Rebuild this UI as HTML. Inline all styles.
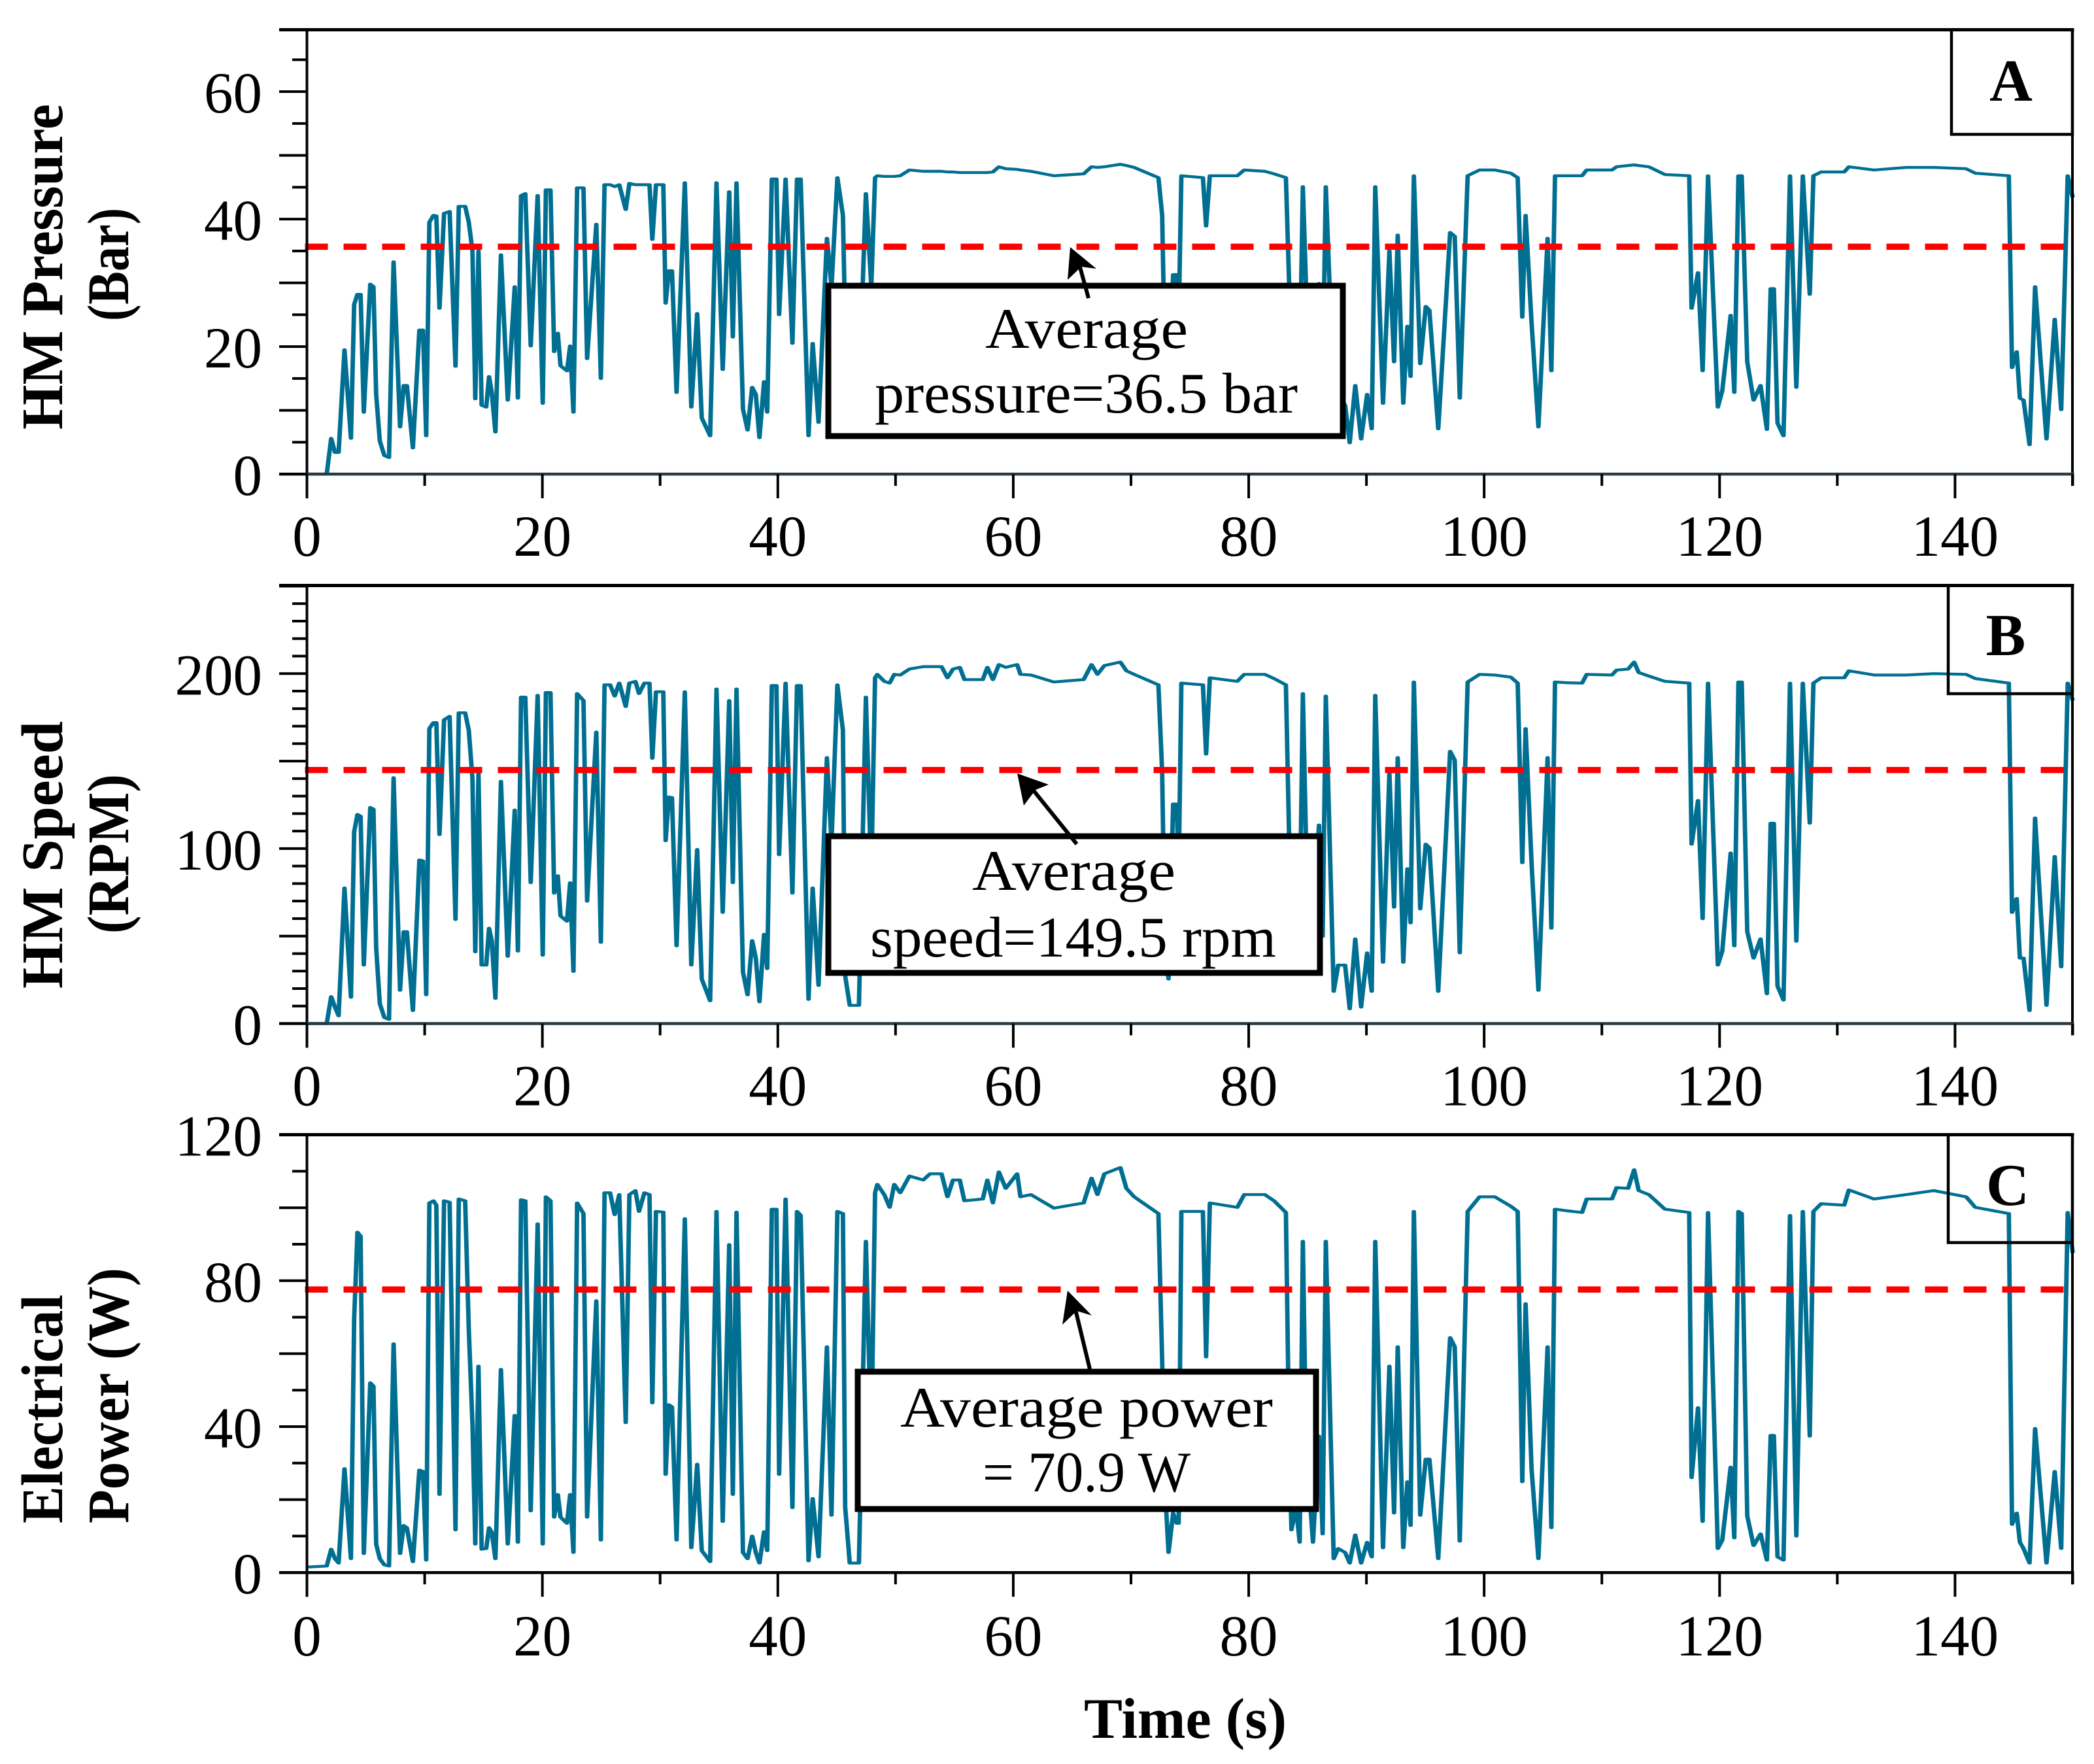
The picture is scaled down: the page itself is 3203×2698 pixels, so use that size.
<!DOCTYPE html>
<html lang="en">
<head>
<meta charset="utf-8">
<title>HM pressure, speed and electrical power over time</title>
<style>
html,body{margin:0;padding:0;background:#fff;}
svg{display:block;}
text{font-family:"Liberation Serif",serif;fill:#000;}
.tick-label{font-size:89px;}
.title{font-size:90px;font-weight:bold;}
.note{font-size:88px;}
.panel-letter{font-size:91px;font-weight:bold;text-anchor:middle;}
</style>
</head>
<body>
<svg id="chart" xmlns="http://www.w3.org/2000/svg" width="3203" height="2698" viewBox="0 0 3203 2698">
  <rect x="0" y="0" width="3203" height="2698" fill="#fff"/>
  <g id="plots"></g>

  <g>
    <rect x="1267" y="437" width="787" height="230" fill="#fff" stroke="#000" stroke-width="9"/>
    <text class="note" x="1507" y="532" textLength="310" lengthAdjust="spacingAndGlyphs">Average</text>
    <text class="note" x="1338" y="631" textLength="647" lengthAdjust="spacingAndGlyphs">pressure=36.5 bar</text>
    <line x1="1665" y1="456" x2="1651" y2="405" stroke="#000" stroke-width="6"/>
    <polygon points="1637,378 1677,411 1654,408 1633,428" fill="#000"/>
  </g>
  <g>
    <rect x="1267" y="1279" width="752" height="209" fill="#fff" stroke="#000" stroke-width="9"/>
    <text class="note" x="1487" y="1361" textLength="311" lengthAdjust="spacingAndGlyphs">Average</text>
    <text class="note" x="1331" y="1463" textLength="621" lengthAdjust="spacingAndGlyphs">speed=149.5 rpm</text>
    <line x1="1647" y1="1291" x2="1580" y2="1208" stroke="#000" stroke-width="6"/>
    <polygon points="1556,1183 1604,1200 1584,1208 1566,1232" fill="#000"/>
  </g>
  <g>
    <rect x="1312" y="2098" width="701" height="210" fill="#fff" stroke="#000" stroke-width="9"/>
    <text class="note" x="1377" y="2182" textLength="570" lengthAdjust="spacingAndGlyphs">Average power</text>
    <text class="note" x="1503" y="2281" textLength="318" lengthAdjust="spacingAndGlyphs">= 70.9 W</text>
    <line x1="1667" y1="2094" x2="1645" y2="2003" stroke="#000" stroke-width="6"/>
    <polygon points="1633,1974 1670,2012 1647,2005 1625,2026" fill="#000"/>
  </g>

  <g>
    <rect x="2985" y="45.5" width="185" height="160" fill="none" stroke="#000" stroke-width="4.5"/>
    <text class="panel-letter" x="3076" y="154">A</text>
    <rect x="2980" y="895.5" width="190" height="165.5" fill="none" stroke="#000" stroke-width="4.5"/>
    <text class="panel-letter" x="3068" y="1002">B</text>
    <rect x="2980" y="1735.5" width="190" height="165" fill="none" stroke="#000" stroke-width="4.5"/>
    <text class="panel-letter" x="3071" y="1843">C</text>
  </g>

  <g>
    <text class="title" transform="translate(95,657) rotate(-90)" textLength="498" lengthAdjust="spacingAndGlyphs">HM Pressure</text>
    <text class="title" transform="translate(196,491) rotate(-90)" textLength="173" lengthAdjust="spacingAndGlyphs">(Bar)</text>
    <text class="title" transform="translate(95,1512) rotate(-90)" textLength="409" lengthAdjust="spacingAndGlyphs">HM Speed</text>
    <text class="title" transform="translate(196,1428) rotate(-90)" textLength="244" lengthAdjust="spacingAndGlyphs">(RPM)</text>
    <text class="title" transform="translate(95,2330) rotate(-90)" textLength="350" lengthAdjust="spacingAndGlyphs">Electrical</text>
    <text class="title" transform="translate(196,2330) rotate(-90)" textLength="391" lengthAdjust="spacingAndGlyphs">Power (W)</text>
    <text class="title" x="1658" y="2658" textLength="310" lengthAdjust="spacingAndGlyphs" style="font-size:88px">Time (s)</text>
  </g>
</svg>
<script>
// Shared time base (seconds)
const times = [
0,1.68,2.06,2.38,2.69,3.19,3.74,4.01,4.29,4.56,
4.83,5.38,5.65,5.88,6.19,6.58,6.97,7.36,7.91,8.22,
8.49,9.00,9.55,9.86,10.13,10.40,10.75,10.99,11.26,11.65,
12.12,12.62,12.90,13.44,13.75,14.06,14.30,14.57,14.84,15.23,
15.47,15.70,16.01,16.48,17.06,17.65,17.92,18.19,18.55,19.01,
19.60,20.03,20.30,20.69,21.00,21.31,21.54,22.09,22.36,22.64,
22.95,23.49,23.80,24.58,24.97,25.28,25.75,26.14,26.53,27.08,
27.39,27.90,28.21,28.67,29.10,29.34,29.65,30.27,30.47,30.74,
31.01,31.40,32.10,32.65,33.15,33.54,34.25,34.79,
35.32,35.87,36.18,36.49,37.04,37.43,37.82,38.13,38.44,38.83,
39.10,39.49,39.88,40.11,40.66,41.24,41.63,41.94,42.61,42.96,
43.46,44.17,44.56,45.06,45.53,45.72,46.11,46.89,47.48,47.94,
48.26,48.45,49.04,49.50,49.89,50.40,51.18,52.35,52.93,53.91,
54.41,54.88,55.46,55.85,57.41,57.80,58.27,58.78,59.36,60.33,
60.61,61.50,63.45,65.98,66.65,67.15,67.74,69.10,69.61,70.27,
72.33,72.65,72.88,73.19,73.58,73.89,74.05,74.28,76.11,76.38,
76.70,79.03,79.62,81.37,82.15,83.16,83.44,83.63,84.02,84.33,
84.60,84.87,85.46,85.97,86.28,86.55,87.22,87.60,88.19,88.58,
89.05,89.55,90.06,90.45,90.75,91.41,91.95,92.35,92.66,93.13,
93.48,93.75,94.03,94.57,95.04,95.35,96.10,97.11,97.50,97.93,
98.60,99.61,100.90,102.27,102.85,103.24,103.52,104.03,104.61,105.39,
105.71,106.02,106.96,108.32,108.71,110.86,111.25,112.23,112.74,113.13,
113.99,115.35,117.42,117.62,118.17,118.56,119.02,119.85,120.23,120.94,
121.25,121.60,121.88,122.35,122.89,123.48,124.02,124.34,124.61,124.92,
125.43,125.98,126.52,127.07,127.66,127.97,128.63,130.59,130.98,133.12,
135.86,138.20,140.94,141.72,144.57,144.84,145.24,145.51,145.82,146.33,
146.80,147.77,148.47,149.02,149.57,150.00];

// HM pressure (bar)
const pressure = [
0,0,5.6,3.4,3.4,19.5,5.6,26.6,28.2,28.2,
9.7,29.8,29.4,12.5,5.2,2.9,2.6,33.3,7.4,13.9,
13.9,4.1,22.6,22.6,6.0,39.5,40.6,40.5,26.0,40.9,
41.2,16.9,42,42,39.5,35,11.8,35,10.8,10.5,
15.3,12.8,6.6,34.4,11.6,29.4,11.9,43.7,44,20.1,
43.7,11.1,44.6,44.6,19.2,22.1,17,16.2,20.1,9.7,
44.9,44.9,18.1,39.2,15,45.4,45.4,45.1,45.4,41.5,
45.6,45.4,45.4,45.4,45.4,36.8,45.4,45.4,26.8,31.9,
31.9,12.8,45.7,10.5,25.2,8.8,6,45.7,
16.4,44.3,21.5,45.7,10.2,6.9,13.6,12.5,5.7,14.5,
9.7,46.3,46.3,25,46.3,20.5,46.3,46.3,6,20.5,
8.1,37,29.4,46.5,40.6,23.7,12.5,12.5,44,29.4,
46.5,46.8,46.7,46.7,46.7,46.8,47.7,47.5,47.5,47.5,
47.4,47.4,47.3,47.3,47.3,47.3,47.4,48.2,47.9,47.8,
47.7,47.5,46.8,47.1,48.2,48.1,48.2,48.6,48.4,48.1,
46.5,40.6,18,12.5,31.3,31.3,23.7,46.8,46.5,38.9,
46.8,46.8,47.7,47.5,47.1,46.5,29.4,18.1,18.1,16.2,
45.1,29.4,16.2,29.9,15.3,45.1,12.5,12.5,10.8,4.9,
13.9,5.5,12.5,7.1,45.1,11.1,35,17.6,37.5,11.1,
23.2,15.3,46.8,17.3,26.3,25.7,7.1,37.9,37.3,11.9,
46.8,47.7,47.7,47.2,46.5,24.6,40.6,23.7,7.4,37,
16.2,46.8,46.8,46.8,47.7,47.7,48.2,48.4,48.5,48.4,
48.2,47,46.8,26,31.6,16.2,46.8,10.5,13.1,24.9,
12.8,46.8,46.8,17.6,11.6,13.9,7,29.1,29.1,8,
6,46.8,13.6,46.8,28.2,46.8,47.4,47.4,48.2,47.7,
48.1,48.1,47.9,47.2,46.8,16.7,19.2,11.9,11.6,4.6,
29.4,5.5,24.3,10.1,46.8,43.4];

// HM speed (rpm)
const speed = [
0,0,15.4,9.4,4.4,77.5,15,109.5,119.5,118.5,
33.4,123.5,122.5,43.4,11.4,3.4,2.4,140.5,19,52.5,
52.5,7.4,93.5,93,16.4,168.6,172,172,108,173.6,
175.6,59.5,177.6,177.6,167.6,140,41,143.5,33.4,33.4,
54.5,47.4,14.4,138.5,38.4,122,41.4,186.6,186.6,80.5,
187.6,39,189.2,189.2,74.5,84.5,61.5,58.5,80.5,29.8,
188.6,184.6,69.9,166.6,46.4,193.6,193.6,187.2,194.6,181.2,
194.6,195.6,188.6,194.6,194.6,151.6,189.6,189.6,104.5,129.5,
129.1,44.4,189.6,33.4,99.5,25.4,13,191.2,
63.5,184.6,80.5,191.2,29.4,16.4,47.4,37.4,12.4,51,
31.4,193.2,193.2,96.5,194.6,74.5,193.2,193.2,13.8,77.5,
21.8,152,103.5,193.6,167.6,27.4,10.4,10.4,186.6,83.5,
197.6,199.6,195.6,194.6,199.6,199.2,202.6,204,204,204,
197.6,202.6,203.6,196.6,196.6,203.6,196.6,205.2,203.6,205.2,
199.6,199.2,195.2,196.6,205.2,199.6,204.6,206.6,201.6,199.6,
193.6,143.5,43.4,25.4,125.5,125.5,83.5,194.6,193.6,154,
197.6,195.6,199.6,199.6,197.2,193.6,103.5,63.5,63.5,56.5,
188.6,103.5,56.5,113.5,49.8,187.2,18.4,33.4,33.4,8.4,
48.4,9.4,40.4,18.4,187.6,35,143.5,66.5,152,35,
88.5,57.5,195.2,65.5,102.5,100.5,18.4,155.6,150.6,40.4,
195.2,199.6,199.2,198,194.6,91.9,168.6,91.5,19,152,
54.5,195.2,194.8,194.6,199.6,199.2,202,202.6,206.6,200.6,
198.6,195.6,194.6,102.5,127.5,59.9,194.6,33.4,41.4,97.5,
44.4,195.2,195.2,52.5,37.4,48.4,17,114.5,114.5,21.4,
13.4,194.6,47,194.6,114.5,194.6,197.6,197.6,201.6,199.2,
199.2,200,199.6,197.2,194.6,63.5,71.5,37.4,37.4,7.4,
117.5,10.4,95.5,32.4,194.6,184.6];

// Electrical power (W)
const power = [
1.5,1.8,6.4,3.8,2.6,28.5,3.8,69.4,93.3,92.2,
5.2,52,51.1,7.8,3.8,2.1,1.8,62.7,5.2,12.9,
12.3,3,28.1,27.7,3.4,101.3,101.9,100.7,21.4,101.9,
101.5,11.7,102.4,101.9,66.5,40.8,7.8,56.6,6.4,6.6,
12.3,11,3.8,55.7,7.8,43.1,8.3,102.2,101.9,16.9,
95.6,7.8,103,101.9,15.2,21.4,15.2,13.5,21.4,5.5,
101.3,98.4,15.2,74.5,8.9,104.1,104.1,98.1,103.6,41.1,
103.6,104.7,99,104.1,103.6,46.5,99,98.8,26.9,46,
45.4,8.9,97,6.8,29.7,6,3,99,
14,89.9,21.4,98.8,5.5,3.8,10,5.5,2.6,11.2,
6,99.6,99.6,26.9,102.4,17.8,99,97.9,3.2,20.3,
4.3,61.9,15.7,99,98.4,18,2.6,2.6,90.8,35.1,
104.1,106.4,103.6,100.1,106.4,104.1,108.7,107.6,109.3,109.3,
103,107.6,107.6,101.9,102.4,107.6,101.3,109.8,105.3,109.3,
103,103.6,99.9,101.3,108.1,103.6,109.3,111,105.3,103,
98.4,58,23.7,5.5,16.3,13.5,13.5,99,99,59.1,
101.3,100.1,103.6,103.6,101.9,98.7,35.1,11.7,18,8.3,
90.8,35.1,8.3,37.4,10.6,90.8,3.8,6.6,5.5,2.6,
10.3,2.6,8.3,4.3,90.8,6.8,56.6,16.3,61.9,6.8,
24.9,12.9,99,15.7,31.1,31.1,3.8,64.4,61.9,8.6,
99,103,103,100.4,99,24.9,73.7,28.3,3.8,61.9,
12.3,99.6,99.2,98.7,102.4,102.4,105.5,105.3,110.4,104.7,
103.6,99.6,98.7,26,45.2,14,98.7,6.6,8.9,28.9,
9.5,99,98.4,15.5,7.4,10.6,3.4,37.6,37.6,4.3,
3.4,97.9,10,99,37.4,99,101.1,100.7,104.9,102.4,
103.6,104.7,103,100.1,98.4,13.2,16.3,8.3,6.6,2.6,
39.5,2.6,27.7,6.6,98.7,87.6];

// Average reference lines as drawn in the figure
const averageLevels = [35.66, 144.9, 77.6];

// Tick values and printed labels
const timeMajorTicks = [0,20,40,60,80,100,120,140];
const timeMinorTicks = [10,30,50,70,90,110,130,150];
const pressureMajorTicks = [0,10,20,30,40,50,60];
const pressureMinorTicks = [5,15,25,35,45,55,65];
const pressureTickLabels = [0,20,40,60];
const speedMajorTicks = [0,50,100,150,200,250];
const speedMinorTicks = [10,20,30,40,60,70,80,90,110,120,130,140,160,170,180,190,210,220,230,240];
const speedTickLabels = [0,100,200];
const powerMajorTicks = [0,20,40,60,80,100,120];
const powerMinorTicks = [10,30,50,70,90,110];
const powerTickLabels = [0,40,80,120];

const NS = 'http://www.w3.org/2000/svg';
const plots = document.getElementById('plots');
const xLeft = 469.5, xRight = 3170.5, xMax = 150;
const strokeStretch = 1.55; // source image was stretched: vertical strokes read wider than horizontal ones
function xScale(t){ return xLeft + (xRight - xLeft) * t / xMax; }
function make(tag, attrs, parent){
  const n = document.createElementNS(NS, tag);
  for (const k in attrs) n.setAttribute(k, attrs[k]);
  parent.appendChild(n);
  return n;
}
function drawPanel(p){
  const yScale = v => p.zeroY - p.perUnit * v;
  const g = make('g', {}, plots);
  
  

  // series
  const pts = times.map((t, i) => (xScale(t) / strokeStretch).toFixed(2) + ',' + yScale(p.values[i]).toFixed(1)).join(' ');
  const series = make('polyline', {points: pts, fill: 'none', stroke: '#006f92', 'stroke-width': 4.4, 'stroke-linejoin': 'round', transform: 'scale(' + strokeStretch + ' 1)'}, g);
  
  

  // average line
  const ay = yScale(p.average);
  const avg = make('line', {x1: 466.5, x2: 3178, y1: ay, y2: ay, stroke: '#ff0000', 'stroke-width': 9.5, 'stroke-dasharray': '35 24'}, g);
  
  

  // frame
  const top = make('line', {x1: 427, x2: xRight + 2, y1: p.topY, y2: p.topY, stroke: '#000', 'stroke-width': 5}, g);
  
  
  const right = make('line', {x1: xRight - .5, x2: xRight - .5, y1: p.topY, y2: p.zeroY + 18, stroke: '#000', 'stroke-width': 4}, g);
  
  
  const left = make('line', {x1: xLeft, x2: xLeft, y1: p.topY, y2: p.zeroY + 37, stroke: '#000', 'stroke-width': 4}, g);
  
  
  const bottom = make('line', {x1: 427, x2: xRight + 2, y1: p.zeroY, y2: p.zeroY, stroke: p.axisColor, 'stroke-width': 4.5}, g);
  
  

  // x ticks
  timeMajorTicks.forEach(v => {
    const tick = make('line', {x1: xScale(v), x2: xScale(v), y1: p.zeroY, y2: p.zeroY + 37, stroke: '#000', 'stroke-width': 4}, g);
    
    
    const label = make('text', {class: 'tick-label', x: xScale(v), y: p.zeroY + p.xLabelOffset, 'text-anchor': 'middle'}, g);
    label.textContent = v;
    
    
  });
  timeMinorTicks.forEach(v => {
    const tick = make('line', {x1: xScale(v), x2: xScale(v), y1: p.zeroY, y2: p.zeroY + 18, stroke: '#000', 'stroke-width': 4}, g);
    
    
  });

  // y ticks
  p.majorTicks.forEach(v => {
    const tick = make('line', {x1: 427, x2: xLeft, y1: yScale(v), y2: yScale(v), stroke: '#000', 'stroke-width': 4}, g);
    
    
  });
  p.minorTicks.forEach(v => {
    const tick = make('line', {x1: 447, x2: xLeft, y1: yScale(v), y2: yScale(v), stroke: '#000', 'stroke-width': 4}, g);
    
    
  });
  p.labels.forEach(v => {
    const label = make('text', {class: 'tick-label', x: 401, y: yScale(v) + 32, 'text-anchor': 'end'}, g);
    label.textContent = v;
    
    
  });
}
drawPanel({key: 'pressure', values: pressure, average: averageLevels[0], zeroY: 725.1, perUnit: 9.75, topY: 45.5,
  majorTicks: pressureMajorTicks, minorTicks: pressureMinorTicks, labels: pressureTickLabels, axisColor: '#2a3a45', xLabelOffset: 125});
drawPanel({key: 'speed', values: speed, average: averageLevels[1], zeroY: 1565.5, perUnit: 2.676, topY: 895.5,
  majorTicks: speedMajorTicks, minorTicks: speedMinorTicks, labels: speedTickLabels, axisColor: '#2a3a45', xLabelOffset: 125});
drawPanel({key: 'power', values: power, average: averageLevels[2], zeroY: 2405.2, perUnit: 5.58, topY: 1735.5,
  majorTicks: powerMajorTicks, minorTicks: powerMinorTicks, labels: powerTickLabels, axisColor: '#000', xLabelOffset: 127});
</script>
</body>
</html>
